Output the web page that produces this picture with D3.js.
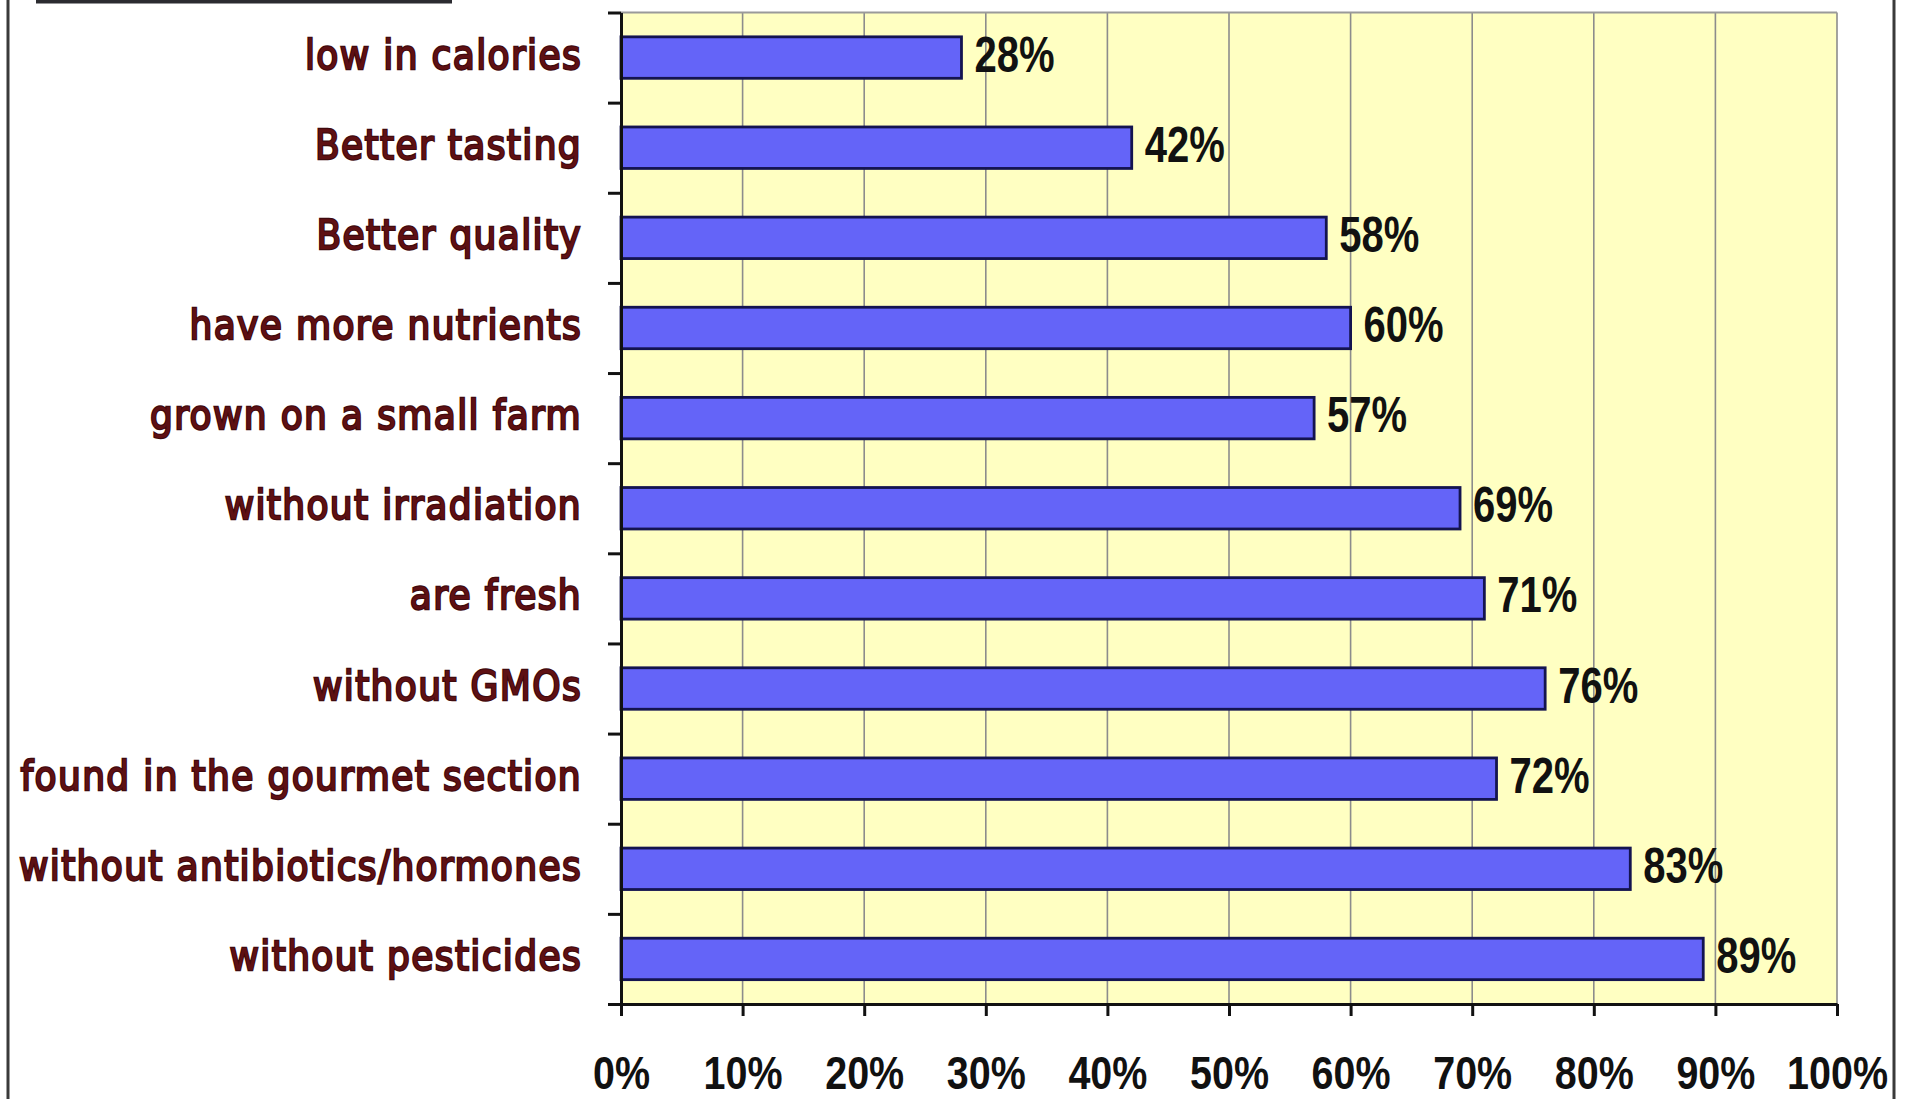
<!DOCTYPE html>
<html>
<head>
<meta charset="utf-8">
<script src="https://cdn.jsdelivr.net/npm/d3@7"></script>
<style>
  html, body { margin: 0; padding: 0; background: #ffffff; }
  svg { display: block; }
</style>
</head>
<body>
<svg id="chart" width="1914" height="1099"></svg>
<script>
// Reasons shoppers give for buying organic food (share of respondents, %)
const categories = [
  "low in calories",
  "Better tasting",
  "Better quality",
  "have more nutrients",
  "grown on a small farm",
  "without irradiation",
  "are fresh",
  "without GMOs",
  "found in the gourmet section",
  "without antibiotics/hormones",
  "without pesticides"
];
const shares = [28, 42, 58, 60, 57, 69, 71, 76, 72, 83, 89];
const tickValues = [0, 10, 20, 30, 40, 50, 60, 70, 80, 90, 100];

const svg = d3.select("#chart");
const W = 1914, H = 1099;
const plot = { left: 621, right: 1837, top: 12.5, bottom: 1004 };

const x = d3.scaleLinear().domain([0, 100]).range([plot.left, plot.right]);
const y = d3.scaleBand().domain(categories)
  .range([plot.top, plot.bottom]).paddingInner(0.54).paddingOuter(0.27);
// category boundaries for the left axis ticks
const yEdge = d3.scaleLinear().domain([0, categories.length]).range([plot.top, plot.bottom]);

// outer frame pieces
svg.append("rect").attr("x", 36).attr("y", 0).attr("width", 416).attr("height", 3.5).attr("fill", "#2b2b30");
svg.append("line").attr("x1", 8).attr("x2", 8).attr("y1", 0).attr("y2", H)
  .attr("stroke", "#3a3a3a").attr("stroke-width", 3);
svg.append("line").attr("x1", 1894).attr("x2", 1894).attr("y1", 0).attr("y2", H)
  .attr("stroke", "#3a3a3a").attr("stroke-width", 3);

// plot area background
svg.append("rect")
  .attr("x", plot.left).attr("y", plot.top)
  .attr("width", plot.right - plot.left).attr("height", plot.bottom - plot.top)
  .attr("fill", "#ffffc2");

// vertical gridlines
svg.append("g").selectAll("line").data(tickValues.slice(1))
  .join("line")
  .attr("x1", d => x(d)).attr("x2", d => x(d))
  .attr("y1", plot.top).attr("y2", plot.bottom)
  .attr("stroke", "#8c8c8c").attr("stroke-width", 1.6);
// top border of plot area
svg.append("line").attr("x1", plot.left).attr("x2", plot.right)
  .attr("y1", plot.top).attr("y2", plot.top)
  .attr("stroke", "#9a9a9a").attr("stroke-width", 2);

// bars
svg.append("g").selectAll("rect").data(categories)
  .join("rect")
  .attr("x", x(0))
  .attr("y", d => y(d))
  .attr("width", (d, i) => x(shares[i]) - x(0))
  .attr("height", y.bandwidth())
  .attr("fill", "#6464f8")
  .attr("stroke", "#141450")
  .attr("stroke-width", 2.8);

// value labels
svg.append("g").selectAll("text").data(categories)
  .join("text")
  .attr("transform", (d, i) =>
    `translate(${x(shares[i]) + 13},${y(d) + y.bandwidth() / 2 + 14}) scale(0.8,1)`)
  .attr("font-family", "'Liberation Sans', Arial, sans-serif")
  .attr("font-weight", "bold")
  .attr("font-size", 50)
  .attr("fill", "#111111")
  .text((d, i) => shares[i] + "%");

// category labels
svg.append("g").selectAll("text").data(categories)
  .join("text")
  .attr("transform", d => `translate(582,${y(d) + y.bandwidth() / 2 + 11}) scale(0.9,1)`)
  .attr("text-anchor", "end")
  .attr("font-family", "'DejaVu Sans', Verdana, sans-serif")
  .attr("font-size", 40)
  .attr("letter-spacing", 1.5)
  .attr("fill", "#5e1013")
  .attr("stroke", "#3e0a0e")
  .attr("stroke-width", 2.3)
  .attr("paint-order", "stroke")
  .text(d => d);

// left axis: ticks at category boundaries
const gy = svg.append("g").attr("transform", `translate(${plot.left},0)`)
  .call(d3.axisLeft(yEdge).tickValues(d3.range(categories.length + 1))
    .tickSize(13).tickSizeOuter(0).tickFormat(""));
gy.select(".domain").attr("stroke", "#111").attr("stroke-width", 3);
gy.selectAll(".tick line").attr("stroke", "#111").attr("stroke-width", 3);

// bottom axis
const gx = svg.append("g").attr("transform", `translate(0,${plot.bottom})`)
  .call(d3.axisBottom(x).tickValues(tickValues).tickSize(12).tickSizeOuter(0)
    .tickFormat(d => d + "%"));
gx.select(".domain").attr("stroke", "#111").attr("stroke-width", 3);
gx.selectAll(".tick line").attr("stroke", "#111").attr("stroke-width", 3);
gx.selectAll(".tick text")
  .attr("y", null).attr("dy", null)
  .attr("transform", "translate(0,85) scale(0.84,1)")
  .attr("font-family", "'Liberation Sans', Arial, sans-serif")
  .attr("font-weight", "bold")
  .attr("font-size", 47)
  .attr("fill", "#111111");
</script>
</body>
</html>
